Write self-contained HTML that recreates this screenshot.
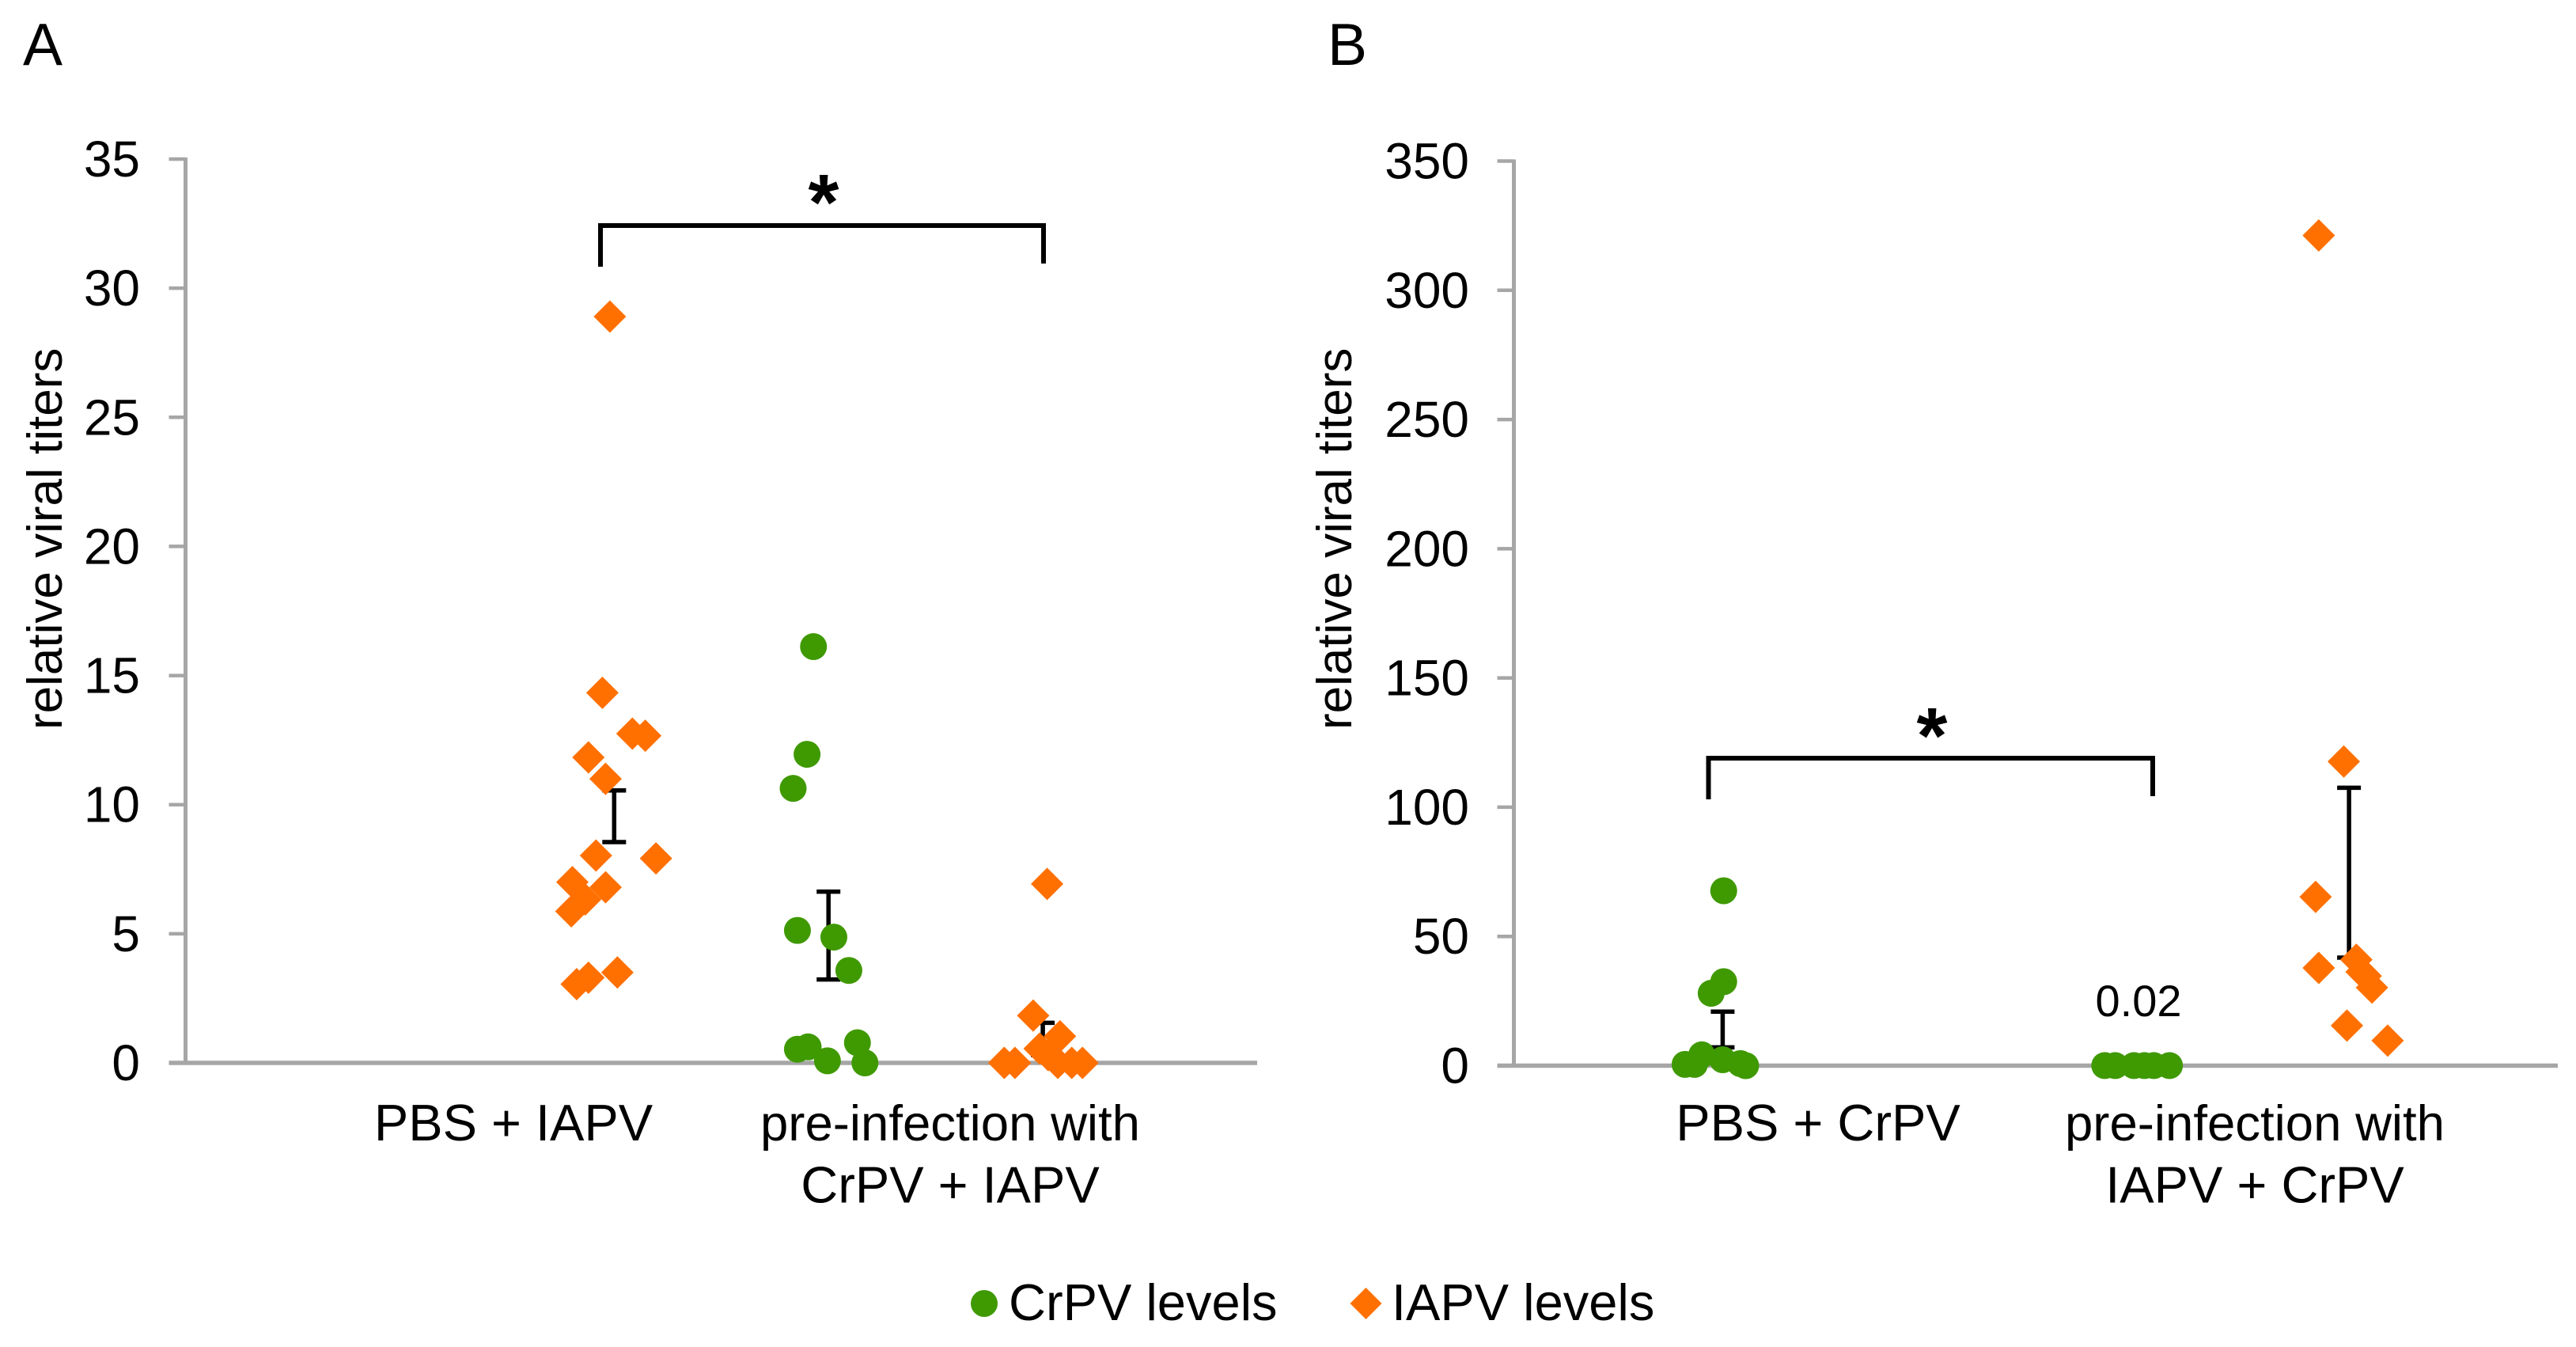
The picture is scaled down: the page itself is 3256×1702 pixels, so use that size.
<!DOCTYPE html>
<html lang="en">
<head>
<meta charset="utf-8">
<title>Relative viral titers</title>
<style>
html,body{margin:0;padding:0;background:#fff;}
svg{display:block;}
text{font-family:"Liberation Sans",Arial,sans-serif;fill:#000;}
</style>
</head>
<body>
<svg id="figure" xmlns="http://www.w3.org/2000/svg" width="3256" height="1702" viewBox="0 0 3256 1702">
  <rect x="0" y="0" width="3256" height="1702" fill="#ffffff"/>
  <text x="29" y="82" font-size="75">A</text>
  <text x="1678" y="82" font-size="75">B</text>
  <text transform="translate(78,922) rotate(-90)" font-size="62">relative viral titers</text>
  <text transform="translate(1708,922) rotate(-90)" font-size="62">relative viral titers</text>
  <g>
    <circle cx="1244" cy="1647" r="17" fill="#3f9900"/>
    <text x="1275" y="1668" font-size="65">CrPV levels</text>
    <polygon points="1726.5,1627 1746.5,1647 1726.5,1667 1706.5,1647" fill="#ff7000"/>
    <text x="1759" y="1668" font-size="65">IAPV levels</text>
  </g>
  <g id="panel-a"></g>
  <g id="panel-b"></g>
</svg>
<script>
// Panel A data
const aTicks = [0, 5, 10, 15, 20, 25, 30, 35];
const aCategoryLines = [["PBS + IAPV"], ["pre-infection with", "CrPV + IAPV"]];
const aIapvX = [3.96, 3.89, 4.17, 4.29, 3.76, 3.92, 3.83, 4.39, 3.61, 3.92, 3.73, 3.60, 4.03, 3.76, 3.65, 8.04, 7.91, 8.16, 7.97, 7.64, 7.74, 8.14, 8.27, 8.37, 8.05];
const aIapvY = [28.9, 14.33, 12.75, 12.67, 11.83, 11.0, 8.03, 7.92, 7.0, 6.8, 6.33, 5.87, 3.5, 3.3, 3.05, 6.93, 1.83, 1.03, 0.55, 0, 0, 0, 0, 0, 0.3];
const aCrpvX = [5.86, 5.80, 5.67, 5.71, 6.05, 6.19, 5.71, 5.81, 6.27, 5.99, 6.34];
const aCrpvY = [16.12, 11.95, 10.63, 5.13, 4.87, 3.58, 0.53, 0.62, 0.78, 0.08, 0];
const aErrX = [4.0, 6.0, 8.0];
const aErrHigh = [10.55, 6.63, 1.55];
const aErrLow = [8.55, 3.23, 0.3];

// Panel B data
const bTicks = [0, 50, 100, 150, 200, 250, 300, 350];
const bCategoryLines = [["PBS + CrPV"], ["pre-infection with", "IAPV + CrPV"]];
const bCrpvX = [2.01, 2.01, 1.89, 1.64, 1.73, 1.80, 2.00, 2.17, 2.22, 5.66, 5.76, 5.94, 6.04, 6.13, 6.28];
const bCrpvY = [67.67, 32.5, 28, 0.5, 0.5, 4.2, 2.3, 0.8, 0, 0.02, 0.02, 0.02, 0.02, 0.02, 0.02];
const bIapvX = [7.71, 7.95, 7.68, 7.71, 8.07, 8.12, 8.16, 8.22, 7.98, 8.37];
const bIapvY = [321.2, 117.67, 65.3, 37.8, 41, 36.3, 34.67, 30.2, 15.5, 9.67];
const bErrX = [2.0, 8.0];
const bErrHigh = [20.9, 107.5];
const bErrLow = [7.1, 41.8];

const SVGNS = "http://www.w3.org/2000/svg";
const GREEN = "#3f9900", ORANGE = "#ff7000", AXIS = "#a6a6a6";

function make(parent, tag, attrs, text) {
  const el = document.createElementNS(SVGNS, tag);
  for (const k in attrs) el.setAttribute(k, attrs[k]);
  if (text !== undefined) el.textContent = text;
  parent.appendChild(el);
  return el;
}

function drawPanel(cfg) {
  const g = document.getElementById(cfg.id);
  const yScale = v => cfg.y0 + (cfg.yTop - cfg.y0) * v / cfg.yMax;
  const xScale = v => cfg.axisX + (cfg.plotRight - cfg.axisX) * v / 10;

  // axes
  const yAxis = make(g, "line", {x1: cfg.axisX, x2: cfg.axisX, y1: yScale(cfg.yMax) - 2, y2: cfg.y0, stroke: AXIS, "stroke-width": 5});
  
  
  const xAxis = make(g, "line", {x1: cfg.axisX - 21, x2: cfg.plotRight, y1: cfg.y0, y2: cfg.y0, stroke: AXIS, "stroke-width": 5.5});
  
  

  cfg.ticks.forEach(t => {
    const mark = make(g, "line", {x1: cfg.axisX - 21, x2: cfg.axisX, y1: yScale(t), y2: yScale(t), stroke: AXIS, "stroke-width": 4.5});
    
    
    const label = make(g, "text", {x: cfg.tickRight, y: yScale(t) + 22, "text-anchor": "end", "font-size": 64}, String(t));
    
    
  });

  // category labels
  cfg.categories.forEach((lines, i) => {
    lines.forEach((line, j) => {
      const cat = make(g, "text", {x: cfg.categoryX[i], y: 1441 + j * 78.5, "text-anchor": "middle", "font-size": line.length > 15 ? 63.5 : 65}, line);
      
      
    });
  });

  // error bars (behind markers)
  cfg.errX.forEach((x, i) => {
    const px = xScale(x), hi = yScale(cfg.errHigh[i]), lo = yScale(cfg.errLow[i]);
    const bar = make(g, "path", {
      d: "M" + px + " " + hi + "V" + lo + "M" + (px - 15) + " " + hi + "H" + (px + 15) + "M" + (px - 15) + " " + lo + "H" + (px + 15),
      stroke: "#000", "stroke-width": 5.5, fill: "none"
    });
    
    
  });

  // series
  cfg.crpvX.forEach((x, i) => {
    const dot = make(g, "circle", {cx: xScale(x), cy: yScale(cfg.crpvY[i]), r: 17, fill: GREEN});
    
    
  });
  cfg.iapvX.forEach((x, i) => {
    const cx = xScale(x), cy = yScale(cfg.iapvY[i]), d = 20.5;
    const dia = make(g, "polygon", {points: cx + "," + (cy - d) + " " + (cx + d) + "," + cy + " " + cx + "," + (cy + d) + " " + (cx - d) + "," + cy, fill: ORANGE});
    
    
  });

  // significance bracket
  const b = cfg.bracket;
  const br = make(g, "path", {d: "M" + b.x1 + " " + b.bottomLeft + "V" + b.top + "H" + b.x2 + "V" + b.bottomRight, stroke: "#000", "stroke-width": 6, fill: "none"});
  
  
  const star = make(g, "text", {x: b.starX, y: b.starY, "text-anchor": "middle", "font-size": 100, "font-weight": "bold"}, "*");
  
  
}

drawPanel({
  id: "panel-a", axisX: 234.5, plotRight: 1589, y0: 1343, yTop: 201, yMax: 35, tickRight: 177,
  ticks: aTicks, categories: aCategoryLines, categoryX: [649, 1201],
  iapvX: aIapvX, iapvY: aIapvY, crpvX: aCrpvX, crpvY: aCrpvY,
  errX: aErrX, errHigh: aErrHigh, errLow: aErrLow,
  bracket: {x1: 759, x2: 1319, top: 285, bottomLeft: 337, bottomRight: 333, starX: 1041, starY: 290}
});

drawPanel({
  id: "panel-b", axisX: 1913.5, plotRight: 3233, y0: 1346.5, yTop: 203.5, yMax: 350, tickRight: 1857,
  ticks: bTicks, categories: bCategoryLines, categoryX: [2298, 2850],
  iapvX: bIapvX, iapvY: bIapvY, crpvX: bCrpvX, crpvY: bCrpvY,
  errX: bErrX, errHigh: bErrHigh, errLow: bErrLow,
  bracket: {x1: 2159.5, x2: 2721, top: 958, bottomLeft: 1010, bottomRight: 1006, starX: 2442, starY: 964}
});

const valueLabel = make(document.getElementById("panel-b"), "text", {x: 2703, y: 1284, "text-anchor": "middle", "font-size": 56}, "0.02");


</script>
</body>
</html>
